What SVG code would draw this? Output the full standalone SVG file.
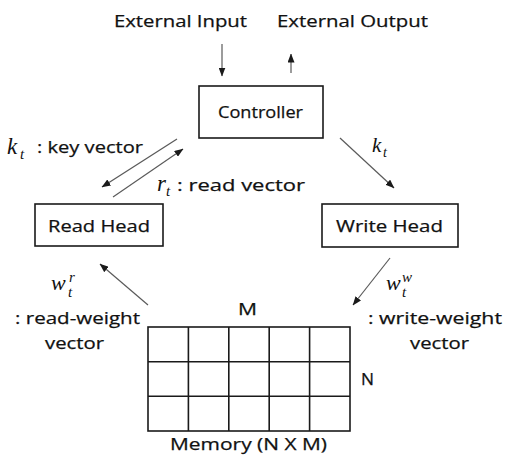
<svg xmlns="http://www.w3.org/2000/svg" width="509" height="456" viewBox="0 0 509 456">
<defs>
<style>
.t{font-family:"Open Sans","Liberation Sans",sans-serif;font-size:17px;fill:#111;stroke:#111;stroke-width:0.25}
.m{font-family:"Liberation Serif",serif;font-style:italic;fill:#111}
.box{fill:#fff;stroke:#1a1a1a;stroke-width:1.6}
.c{stroke:#5a5a5a;stroke-width:1.2;fill:none;marker-end:url(#ah)}
.g{stroke:#1a1a1a;stroke-width:1.6;fill:none}
</style>
<marker id="ah" markerUnits="userSpaceOnUse" markerWidth="9" markerHeight="7" refX="8.5" refY="3.5" orient="auto">
<path d="M0,0 L9,3.5 L0,7 z" fill="#1a1a1a"/>
</marker>
</defs>
<rect width="509" height="456" fill="#fff"/>

<g id="external">
<text class="t" x="114" y="27" textLength="133" lengthAdjust="spacingAndGlyphs">External Input</text>
<text class="t" x="277" y="27" textLength="151" lengthAdjust="spacingAndGlyphs">External Output</text>
</g>

<g id="controller">
<rect class="box" x="199" y="86" width="124" height="52"/>
<text class="t" x="218" y="118" textLength="85" lengthAdjust="spacingAndGlyphs">Controller</text>
</g>

<g id="read-head">
<rect class="box" x="35" y="204" width="128" height="42"/>
<text class="t" x="48" y="232" textLength="102" lengthAdjust="spacingAndGlyphs">Read Head</text>
</g>

<g id="write-head">
<rect class="box" x="322" y="204" width="136" height="43"/>
<text class="t" x="336" y="232" textLength="107" lengthAdjust="spacingAndGlyphs">Write Head</text>
</g>

<g id="memory">
<rect class="g" x="148" y="327" width="202" height="104"/>
<path class="g" d="M188.4,327V431M228.8,327V431M269.2,327V431M309.6,327V431M148,361.7H350M148,396.3H350"/>
<text class="t" x="238" y="315" textLength="19" lengthAdjust="spacingAndGlyphs">M</text>
<text class="t" x="361" y="385" textLength="13" lengthAdjust="spacingAndGlyphs">N</text>
<text class="t" x="170" y="450" textLength="157" lengthAdjust="spacingAndGlyphs">Memory (N X M)</text>
</g>

<g id="connectors">
<line class="c" x1="222" y1="44" x2="222" y2="76"/>
<line class="c" x1="291" y1="73" x2="291" y2="54"/>
<line class="c" x1="177" y1="139" x2="102" y2="187"/>
<line class="c" x1="113" y1="197" x2="183" y2="149"/>
<line class="c" x1="340" y1="138" x2="394" y2="188"/>
<line class="c" x1="148" y1="305" x2="100" y2="264"/>
<line class="c" x1="390" y1="258" x2="353" y2="305"/>
</g>

<g id="labels">
<text class="m" x="7" y="154" font-size="23">k</text>
<text class="m" x="20" y="159" font-size="15">t</text>
<text class="t" x="37" y="153" textLength="106" lengthAdjust="spacingAndGlyphs">: key vector</text>

<text class="m" x="157" y="191" font-size="23">r</text>
<text class="m" x="166" y="196" font-size="15">t</text>
<text class="t" x="177" y="191" textLength="128" lengthAdjust="spacingAndGlyphs">: read vector</text>

<text class="m" x="372" y="152" font-size="21">k</text>
<text class="m" x="383" y="157" font-size="14">t</text>

<text class="m" x="51" y="290" font-size="22">w</text>
<text class="m" x="69" y="282" font-size="15">r</text>
<text class="m" x="68" y="297" font-size="15">t</text>
<text class="t" x="15" y="324" textLength="125" lengthAdjust="spacingAndGlyphs">: read-weight</text>
<text class="t" x="45" y="349" textLength="59" lengthAdjust="spacingAndGlyphs">vector</text>

<text class="m" x="386" y="290" font-size="22">w</text>
<text class="m" x="402" y="282" font-size="15">w</text>
<text class="m" x="402" y="297" font-size="15">t</text>
<text class="t" x="368" y="324" textLength="134" lengthAdjust="spacingAndGlyphs">: write-weight</text>
<text class="t" x="410" y="349" textLength="59" lengthAdjust="spacingAndGlyphs">vector</text>
</g>
</svg>
